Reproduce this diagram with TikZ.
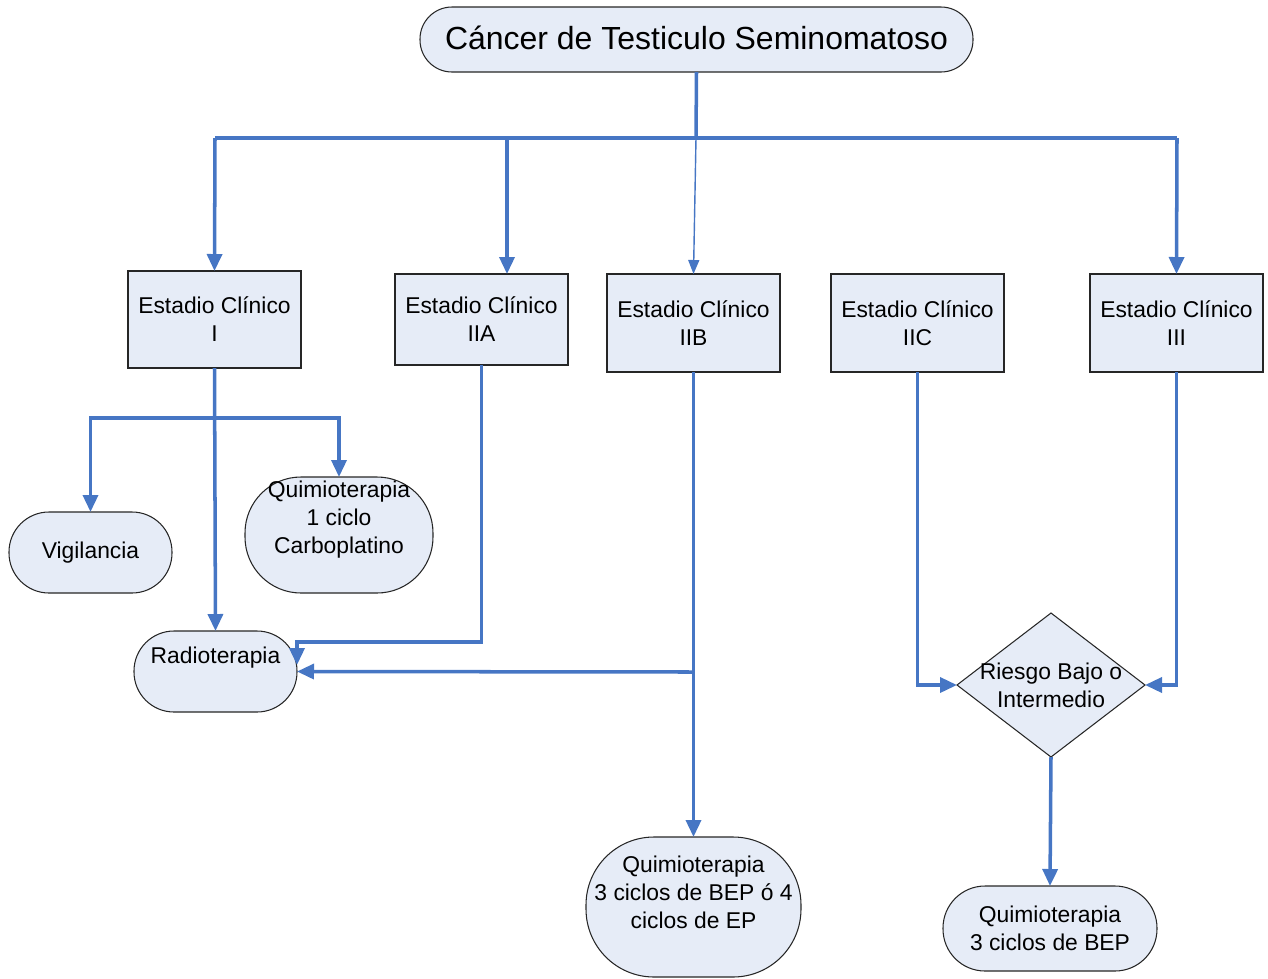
\documentclass[tikz,border=0pt]{standalone}
\usepackage{fontspec}
\setmainfont{Liberation Sans}
\usetikzlibrary{shapes.geometric,arrows.meta}
\definecolor{boxfill}{RGB}{230,236,247}
\definecolor{linkblue}{RGB}{70,118,196}
\begin{document}
\begin{tikzpicture}[x=0.02cm,y=-0.02cm,
  shapebox/.style={draw=black!85,line width=0.6pt,fill=boxfill,inner sep=0pt,outer sep=0pt},
  rectbox/.style={shapebox,rectangle,minimum width=173*0.02cm},
  txt/.style={font=\fontsize{13}{15.9}\selectfont,align=center,inner sep=0pt},
  link/.style={draw=linkblue,line width=2pt},
  arr/.style={link,-{Triangle[length=0.34cm,width=0.3cm]}},
  thinarr/.style={draw=linkblue,line width=0.8pt,-{Triangle[length=0.28cm,width=0.22cm]}},
]
\useasboundingbox (0,0) rectangle (1268,978);

% title
\node[shapebox,rounded corners=0.64cm,minimum width=553*0.02cm,minimum height=65*0.02cm,
  label={[inner sep=0pt,font=\fontsize{18.2}{22}\selectfont,yshift=0.03cm]center:Cáncer de Testiculo Seminomatoso}] (t) at (696.5,39.5) {};

% stage boxes
\node[rectbox,minimum height=97*0.02cm,label={[txt]center:{Estadio Clínico\\I}}] (e1) at (214.5,319.5) {};
\node[rectbox,minimum height=91*0.02cm,label={[txt]center:{Estadio Clínico\\IIA}}] (e2) at (481.5,319.5) {};
\node[rectbox,minimum height=98*0.02cm,label={[txt]center:{Estadio Clínico\\IIB}}] (e3) at (693.5,323) {};
\node[rectbox,minimum height=98*0.02cm,label={[txt]center:{Estadio Clínico\\IIC}}] (e4) at (917.5,323) {};
\node[rectbox,minimum height=98*0.02cm,label={[txt]center:{Estadio Clínico\\III}}] (e5) at (1176.5,323) {};

% outcomes
\node[shapebox,rounded corners=0.8cm,minimum width=163*0.02cm,minimum height=81*0.02cm,
  label={[txt]center:Vigilancia}] (vig) at (90.5,552.5) {};
\node[shapebox,rounded corners=1.12cm,minimum width=188*0.02cm,minimum height=116*0.02cm,
  label={[txt,yshift=0.3cm]center:{Quimioterapia\\1 ciclo\\Carboplatino}}] (q1) at (339,535) {};
\node[shapebox,rounded corners=0.8cm,minimum width=163*0.02cm,minimum height=81*0.02cm,
  label={[txt,yshift=0.28cm]center:Radioterapia}] (rad) at (215.5,671.5) {};
\node[shapebox,rounded corners=1.36cm,minimum width=215*0.02cm,minimum height=140*0.02cm,
  label={[txt,yshift=0.29cm]center:{Quimioterapia\\3 ciclos de BEP ó 4\\ciclos de EP}}] (q3) at (693.5,907) {};
\node[shapebox,diamond,minimum width=188*0.02cm,minimum height=144*0.02cm,
  label={[txt]center:{Riesgo Bajo o\\Intermedio}}] (dia) at (1051,685) {};
\node[shapebox,rounded corners=0.84cm,minimum width=214*0.02cm,minimum height=85*0.02cm,
  label={[txt]center:{Quimioterapia\\3 ciclos de BEP}}] (q4) at (1050,928.5) {};

% junction points
\coordinate (j0) at (696,138);
\coordinate (jl) at (215,138);
\coordinate (j2) at (507,138);
\coordinate (jr) at (1177,138);
\coordinate (e2top) at (507,274);
\coordinate (b1) at (214.5,418);
\coordinate (c2) at (297,642);
\coordinate (c2b) at (297,665);
\coordinate (b3) at (693.5,672);

% connectors from title
\draw[link] (t.south) -- (j0);
\draw[link] (jl) -- (jr);
\draw[arr] (jl) -- (e1.north);
\draw[arr] (j2) -- (e2top);
\draw[thinarr] (j0) -- (e3.north);
\draw[arr] (jr) -- (e5.north);

% stage I
\draw[arr] (e1.south) -- (rad.north);
\draw[arr] (b1) -| (vig.north);
\draw[arr] (b1) -| (q1.north);

% stage IIA
\draw[arr] (e2.south) |- (c2) -- (c2b);

% stage IIB
\draw[arr] (e3.south) -- (q3.north);
\draw[arr] (b3) -- (rad.east);

% stage IIC, III
\draw[arr] (e4.south) |- (dia.west);
\draw[arr] (e5.south) |- (dia.east);
\draw[arr] (dia.south) -- (q4.north);
\end{tikzpicture}
\end{document}
